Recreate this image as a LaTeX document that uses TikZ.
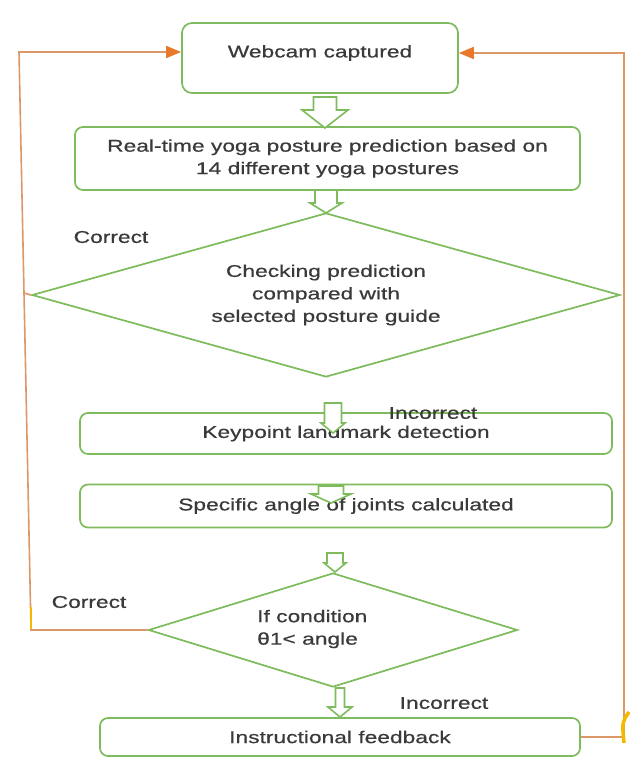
\documentclass[tikz,border=0pt]{standalone}
\usepackage{fontspec}
\setmainfont{Liberation Sans}[FakeStretch=1.34,FakeBold=0.6]
\usetikzlibrary{shapes.geometric,arrows.meta}
\definecolor{gr}{HTML}{7DBB5C}
\definecolor{org}{HTML}{E8782A}
\definecolor{orgline}{HTML}{DC9866}
\definecolor{txt}{HTML}{3A3A3A}
\definecolor{ylw}{HTML}{F5B800}
\newcommand\hollowarr[6]{%
  \draw[gr, line width=1.6pt, fill=white, line join=miter]
    (#1-#4,#2) -- (#1+#4,#2) -- (#1+#4,#3-#6) -- (#1+#5,#3-#6) -- (#1,#3)
    -- (#1-#5,#3-#6) -- (#1-#4,#3-#6) -- cycle;}
\tikzset{
  every node/.style={font=\fontsize{17}{22.5}\selectfont, text=txt},
  box/.style={draw=gr, line width=1.7pt, rounded corners=8pt, inner sep=0pt},
  dia/.style={diamond, draw=gr, line width=1.7pt, inner sep=0pt, aspect=3},
  lbl/.style={inner sep=0pt},
  back/.style={draw=orgline, line width=1.6pt},
  tipo/.style={-{Triangle[length=15pt,width=12pt,color=org]}},
}
\begin{document}
\begin{tikzpicture}[x=1pt,y=-1pt]
\useasboundingbox[fill=white] (0,0) rectangle (633,776);

% boxes
\node[box, rounded corners=10pt, minimum width=276pt, minimum height=70pt] (web) at (320,58) {};
\node[lbl] (webt) at (320,53) {Webcam captured};
\node[box, minimum width=505pt, minimum height=63pt, align=center] (pred) at (327.5,158.5)
  {Real-time yoga posture prediction based on\\14 different yoga postures};
\node[dia, minimum width=588pt, minimum height=164pt, align=center] (chk) at (326,295)
  {Checking prediction\\compared with\\selected posture guide};
\node[box, minimum width=532pt, minimum height=41pt] (kp) at (346,433.5) {Keypoint landmark detection};
\node[box, minimum width=532pt, minimum height=43pt] (ang) at (346,506) {Specific angle of joints calculated};
\node[dia, minimum width=369pt, minimum height=114pt] (cond) at (333,630) {};
\node[lbl, align=left, anchor=west] (condt) at (257,629) {If condition\\θ1< angle};
\node[box, minimum width=480pt, minimum height=38pt] (fb) at (340,737) {Instructional feedback};

% labels
\node[lbl] (c1) at (111,237) {Correct};
\node[lbl] (i1) at (433,413) {Incorrect};
\node[lbl] (c2) at (89,602) {Correct};
\node[lbl] (i2) at (444,703) {Incorrect};

% hollow arrows
\hollowarr{325}{97}{128}{11.5}{23}{18}
\hollowarr{326}{190}{213}{11}{16}{10}
\hollowarr{333}{403}{433}{8.5}{12}{10}
\hollowarr{331}{486}{503}{12.5}{20}{9}
\hollowarr{335}{553}{572}{8}{11}{9}
\hollowarr{340}{688}{717}{4.5}{12}{10}

% feedback loops
\coordinate (lb) at (31,630);
\coordinate (lt) at (19,52);
\coordinate (lm) at (24,293);
\coordinate (rb) at (624,737);
\coordinate (rt) at (624,53);
\draw[back, tipo] (cond.west) -- (lb) -- (lt) -- (lt -| web.west);
\draw[back] (chk.west) -- (lm);
\draw[back, tipo] (fb.east) -- (rb) -- (rt) -- (rt -| web.east);

% yellow marks
\draw[ylw, line width=2.5pt] (31,607) -- (31,629);
\draw[ylw, line width=3.5pt] (629,712) .. controls (622,722) .. (624,743);
\end{tikzpicture}
\end{document}
